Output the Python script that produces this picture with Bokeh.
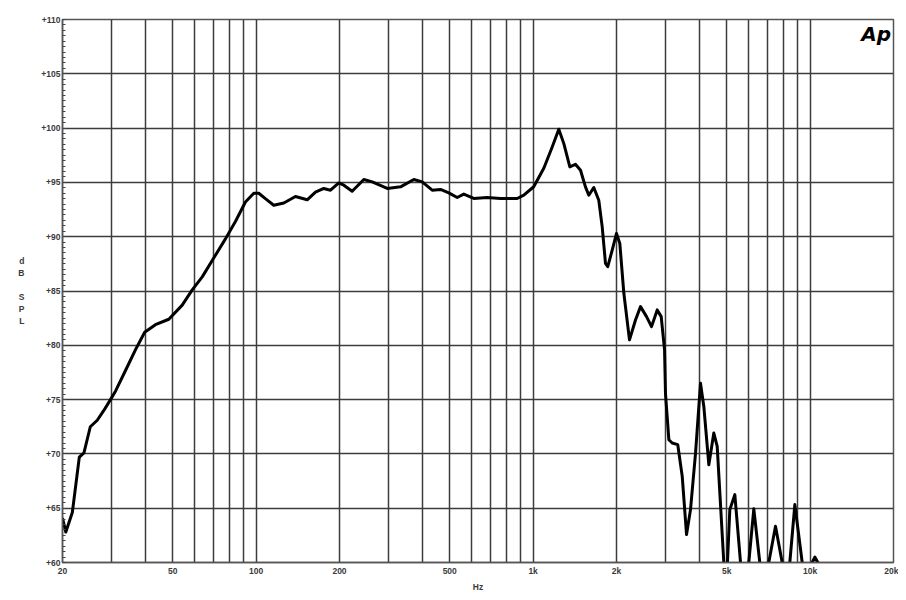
from bokeh.plotting import figure
from bokeh.models import FixedTicker, Label, Range1d
from bokeh.embed import file_html
from bokeh.resources import INLINE

# --- data ---
freq_hz = [20, 20.56, 21.7, 22.3, 23.0, 23.9, 25.2, 26.7, 28.2, 29.8, 31.1, 33.8, 36.7,
           39.6, 43.3, 48.4, 54.1, 58.8, 63.9, 71.3, 77.5, 84.2, 91.5, 98.1, 102.2, 108,
           115.8, 125.9, 138.7, 152.9, 163.8, 175.5, 185.6, 198.8, 207.3, 222.2, 244.8,
           262.5, 297.4, 332.2, 371, 397.8, 432.2, 463, 496.2, 532, 562, 610.6, 682.6,
           762.6, 876, 925.6, 1005, 1093, 1172, 1238, 1291, 1357, 1422, 1483, 1545, 1589,
           1656, 1726, 1776, 1825, 1860, 1930, 2000, 2056, 2126, 2228, 2342, 2442, 2567,
           2676, 2806, 2900, 2982, 3006, 3091, 3178, 3328, 3454, 3580, 3700, 3858, 4020,
           4133, 4309, 4491, 4619, 4880, 4970, 5130, 5348, 5608, 5800, 6006, 6262, 6582,
           6800, 7092, 7499, 7928, 8150, 8447, 8808, 9364, 9750, 10175, 10400, 10660, 11000]
spl_db = [64.1, 62.8, 64.6, 67.0, 69.7, 70.1, 72.5, 73.1, 74.0, 75.0, 75.8, 77.7, 79.6,
          81.2, 81.9, 82.4, 83.7, 85.1, 86.3, 88.3, 89.8, 91.4, 93.2, 94.0, 94.0, 93.5,
          92.9, 93.1, 93.7, 93.4, 94.1, 94.44, 94.28, 94.95, 94.74, 94.19, 95.27,
          95.05, 94.44, 94.59, 95.27, 95.05, 94.28, 94.35, 94.04, 93.61, 93.92, 93.52, 93.61,
          93.52, 93.52, 93.82, 94.6, 96.3, 98.26, 99.9, 98.57, 96.43, 96.67, 96.12, 94.59, 93.82,
          94.53, 93.36, 90.91, 87.55, 87.24, 88.77, 90.3, 89.38, 84.79, 80.5, 82.33, 83.56, 82.64,
          81.72, 83.26, 82.64, 79.58, 75.5, 71.3, 71.0, 70.85, 67.93, 62.57, 64.87, 70.08, 76.5,
          74.37, 69.0, 71.92, 70.69, 60.0, 57.0, 64.87, 66.25, 60.0, 57.0, 60.0, 64.94, 60.0,
          57.0, 60.0, 63.34, 60.0, 57.0, 60.0, 65.33, 60.0, 57.0, 60.0, 60.5, 60.0, 56.0]

x_label_ticks = [20, 50, 100, 200, 500, 1000, 2000, 5000, 10000, 20000]
x_label_text = ["20", "50", "100", "200", "500", "1k", "2k", "5k", "10k", "20k"]
x_grid_lines = [20, 30, 40, 50, 60, 70, 80, 90, 100, 200, 300, 400, 500, 600, 700, 800, 900,
                1000, 2000, 3000, 4000, 5000, 6000, 7000, 8000, 9000, 10000, 20000]
y_major = [60, 65, 70, 75, 80, 85, 90, 95, 100, 105, 110]
y_minor = [60 + 0.5 * i for i in range(101)]

p = figure(width=898, height=594, x_axis_type="log",
           x_range=Range1d(20, 20000), y_range=Range1d(60, 110),
           output_backend="svg", toolbar_location=None,
           min_border_left=62, min_border_right=5, min_border_top=19, min_border_bottom=31)
p.background_fill_color = "white"
p.border_fill_color = "white"
p.outline_line_color = "#555555"
p.outline_line_width = 1.5

grid_col = "#3c3c3c"
p.xaxis.ticker = FixedTicker(ticks=x_label_ticks, minor_ticks=[])
p.xaxis.major_label_overrides = {t: s for t, s in zip(x_label_ticks, x_label_text)}
p.xgrid.ticker = FixedTicker(ticks=x_grid_lines)
p.xgrid.grid_line_color = grid_col
p.xgrid.grid_line_width = 1.5
p.ygrid.grid_line_color = grid_col
p.ygrid.grid_line_width = 1.5

p.yaxis.ticker = FixedTicker(ticks=y_major, minor_ticks=y_minor)
p.yaxis.major_label_overrides = {t: "+%d" % t for t in y_major}

for ax in (p.xaxis[0], p.yaxis[0]):
    ax.axis_line_color = "#555555"
    ax.axis_line_width = 1.5
    ax.major_tick_in = 0
    ax.major_tick_out = 0
    ax.major_label_text_font = "Liberation Sans"
    ax.major_label_text_font_size = "8.5px"
    ax.major_label_text_font_style = "bold"
    ax.major_label_text_color = "#3a3a3a"
    ax.axis_label_text_font = "Liberation Sans"
    ax.axis_label_text_font_size = "8.5px"
    ax.axis_label_text_font_style = "bold"
    ax.axis_label_text_color = "#3a3a3a"

p.yaxis.minor_tick_in = 3
p.yaxis.minor_tick_out = 0
p.yaxis.minor_tick_line_color = "#444444"
p.yaxis.major_label_standoff = 2
p.yaxis.axis_label = "d\nB\n\nS\nP\nL"
p.yaxis.axis_label_orientation = "horizontal"
p.yaxis.axis_label_standoff = 14

p.xaxis.minor_tick_in = 0
p.xaxis.minor_tick_out = 0
p.xaxis.major_label_standoff = 3
p.xaxis.axis_label = "Hz"
p.xaxis.axis_label_standoff = 3

p.line(freq_hz, spl_db, line_color="black", line_width=3, line_join="round")

p.add_layout(Label(x=19600, y=109.8, text="Ap", text_align="right", text_baseline="top",
                   text_font="DejaVu Sans", text_font_size="20px",
                   text_font_style="bold italic", text_color="black"))

open("out.html", "w").write(file_html(p, INLINE))
